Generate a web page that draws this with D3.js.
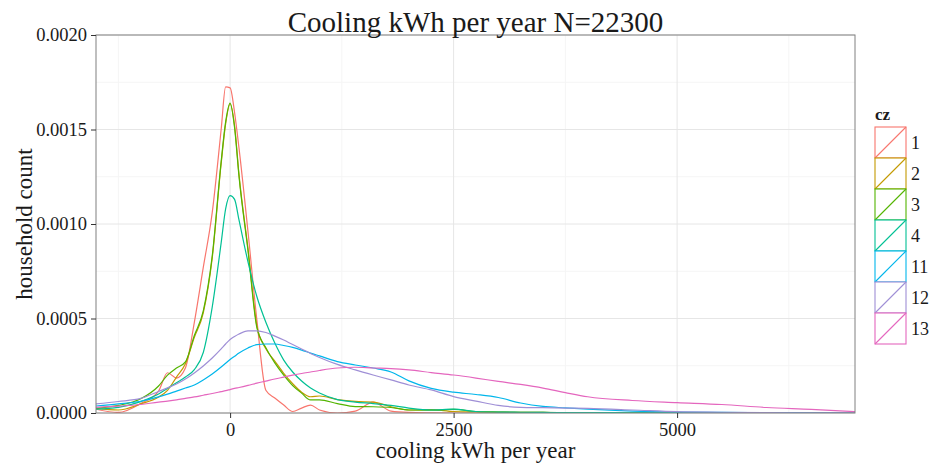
<!DOCTYPE html>
<html>
<head>
<meta charset="utf-8">
<script src="https://cdn.jsdelivr.net/npm/d3@7"></script>
<style>
  body { margin: 0; background: #fff; }
  text { font-family: "Liberation Serif", "Times New Roman", serif; fill: #1a1a1a; }
</style>
</head>
<body>
<svg id="chart" width="929" height="464"></svg>
<script>
// density values (units of 1e-4)
var xs = [-1500,-1250,-1000,-800,-700,-600,-500,-400,-300,-200,-100,-50,0,50,100,200,300,400,500,600,700,800,900,1000,1200,1400,1600,1800,2000,2250,2500,2750,3000,3250,3500,3750,4000,4500,5000,5500,6000,6500,6990];

var cz1  = [0.2,0.03,0.5,1.16,2.13,1.85,2.38,4.8,7.7,10.6,15.0,17.25,17.2,15.9,14.0,9.6,4.9,1.2,0.79,0.42,0.08,0.26,0.42,0.16,0.0,0.1,0.58,0.1,0.03,0.01,0,0,0,0,0,0,0,0,0,0,0,0,0];
var cz2  = [0.25,0.16,0.48,0.85,1.2,1.9,2.6,4.0,5.3,8.2,13.2,15.3,16.35,15.2,12.6,8.7,4.6,3.4,2.75,2.1,1.55,1.1,0.86,0.9,0.71,0.61,0.58,0.33,0.16,0.18,0.08,0.06,0.05,0.04,0.03,0.02,0.02,0.01,0.01,0,0,0,0];
var cz3  = [0.25,0.4,0.75,1.43,2.0,2.38,2.7,4.1,5.4,8.3,13.3,15.4,16.4,15.1,12.5,8.6,4.5,3.45,2.65,2.0,1.45,1.05,0.69,0.69,0.5,0.34,0.33,0.29,0.16,0.15,0.19,0.08,0.05,0.03,0.03,0.02,0.01,0,0,0,0,0,0];
var cz4  = [0.2,0.3,0.6,1.0,1.3,1.6,1.9,2.3,3.2,5.6,9.0,10.8,11.5,11.3,10.2,8.0,6.15,4.8,3.7,2.8,2.17,1.69,1.32,1.06,0.71,0.58,0.5,0.4,0.26,0.16,0.2,0.08,0.05,0.04,0.03,0.02,0.02,0.01,0.01,0,0,0,0];
var cz11 = [0.37,0.48,0.62,0.85,1.0,1.16,1.32,1.48,1.75,2.06,2.43,2.63,2.83,3.0,3.17,3.44,3.62,3.65,3.65,3.57,3.47,3.33,3.17,3.02,2.72,2.54,2.38,2.17,1.7,1.3,1.1,0.98,0.82,0.53,0.35,0.27,0.2,0.1,0.05,0.03,0.02,0.01,0.0];
var cz12 = [0.48,0.61,0.77,1.14,1.33,1.53,1.8,2.12,2.49,2.91,3.39,3.65,3.89,4.05,4.18,4.34,4.35,4.26,4.07,3.86,3.62,3.39,3.15,2.94,2.57,2.28,2.01,1.75,1.48,1.22,0.87,0.63,0.4,0.3,0.28,0.26,0.24,0.16,0.07,0.04,0.02,0.01,0.01];
var cz13 = [0.3,0.36,0.45,0.58,0.63,0.69,0.77,0.85,0.94,1.03,1.13,1.18,1.24,1.3,1.35,1.46,1.58,1.69,1.8,1.9,2.0,2.09,2.17,2.25,2.38,2.42,2.38,2.35,2.28,2.14,2.01,1.85,1.67,1.51,1.32,1.08,0.86,0.66,0.55,0.45,0.29,0.19,0.07];

var groups = ["1","2","3","4","11","12","13"];
var colors = ["#F8766D","#C49A00","#53B400","#00C094","#00B6EB","#9F8FD6","#E466BE"];
var xTicks = [0, 2500, 5000];
var yTicks = [0, 0.0005, 0.001, 0.0015, 0.002];

var series = [cz1, cz2, cz3, cz4, cz11, cz12, cz13].map(function(vals, i) {
  return { cz: groups[i], color: colors[i],
           points: vals.map(function(v, j) { return [xs[j], v * 1e-4]; }) };
});

var svg = d3.select("#chart");
var pL = 96, pR = 855, pT = 35, pB = 413;

var x = d3.scaleLinear().domain([-1500, 6990]).range([pL, pR]);
var y = d3.scaleLinear().domain([0, 0.002]).range([pB, pT]);

// minor grid
var xMinor = [-1250, 1250, 3750, 6250];
var yMinor = [0.00025, 0.00075, 0.00125, 0.00175];
svg.append("g").selectAll("line").data(xMinor).enter().append("line")
  .attr("x1", d => x(d)).attr("x2", d => x(d)).attr("y1", pT).attr("y2", pB)
  .attr("stroke", "#f5f5f5").attr("stroke-width", 1);
svg.append("g").selectAll("line").data(yMinor).enter().append("line")
  .attr("y1", d => y(d)).attr("y2", d => y(d)).attr("x1", pL).attr("x2", pR)
  .attr("stroke", "#f5f5f5").attr("stroke-width", 1);
// major grid
svg.append("g").selectAll("line").data(xTicks).enter().append("line")
  .attr("x1", d => x(d)).attr("x2", d => x(d)).attr("y1", pT).attr("y2", pB)
  .attr("stroke", "#e6e6e6").attr("stroke-width", 1);
svg.append("g").selectAll("line").data(yTicks).enter().append("line")
  .attr("y1", d => y(d)).attr("y2", d => y(d)).attr("x1", pL).attr("x2", pR)
  .attr("stroke", "#e6e6e6").attr("stroke-width", 1);

// curves
svg.append("clipPath").attr("id", "clip").append("rect")
  .attr("x", pL).attr("y", pT).attr("width", pR - pL).attr("height", pB - pT);

var line = d3.line()
  .x(d => x(d[0])).y(d => y(d[1]))
  .curve(d3.curveMonotoneX);

svg.append("g").attr("clip-path", "url(#clip)")
  .selectAll("path").data(series).enter().append("path")
  .attr("d", d => line(d.points))
  .attr("fill", "none")
  .attr("stroke", d => d.color)
  .attr("stroke-width", 1.2);

// panel border
svg.append("rect").attr("x", pL).attr("y", pT)
  .attr("width", pR - pL).attr("height", pB - pT)
  .attr("fill", "none").attr("stroke", "#808080").attr("stroke-width", 1);

// axes
var xAxis = svg.append("g").attr("transform", "translate(0," + pB + ")")
  .call(d3.axisBottom(x).tickValues(xTicks).tickFormat(d3.format("d")).tickSize(5).tickPadding(5));
var yAxis = svg.append("g").attr("transform", "translate(" + pL + ",0)")
  .call(d3.axisLeft(y).tickValues(yTicks).tickFormat(d3.format(".4f")).tickSize(5).tickPadding(4));
[xAxis, yAxis].forEach(function(a) {
  a.select(".domain").remove();
  a.selectAll(".tick line").attr("stroke", "#333");
  a.selectAll(".tick text").style("font-family", '"Liberation Serif", serif')
    .style("font-size", "18.5px").attr("fill", "#1a1a1a");
});

// titles
svg.append("text").attr("x", (pL + pR) / 2).attr("y", 32)
  .attr("text-anchor", "middle").style("font-size", "29px")
  .text("Cooling kWh per year N=22300");
svg.append("text").attr("x", (pL + pR) / 2).attr("y", 458)
  .attr("text-anchor", "middle").style("font-size", "23px")
  .text("cooling kWh per year");
svg.append("text")
  .attr("transform", "translate(32," + ((pT + pB) / 2) + ") rotate(-90)")
  .attr("text-anchor", "middle").style("font-size", "23px")
  .text("household count");

// legend
var lg = svg.append("g").attr("transform", "translate(875,127)");
lg.append("text").attr("x", 0).attr("y", -7)
  .style("font-size", "17px").style("font-weight", "bold").text("cz");
var key = lg.selectAll("g.key").data(series).enter().append("g")
  .attr("class", "key")
  .attr("transform", (d, i) => "translate(0," + (i * 31) + ")");
key.append("rect").attr("x", 0).attr("y", 0).attr("width", 31).attr("height", 31)
  .attr("fill", "#fff").attr("stroke", d => d.color).attr("stroke-width", 1.1);
key.append("line").attr("x1", 0).attr("y1", 31).attr("x2", 31).attr("y2", 0)
  .attr("stroke", d => d.color).attr("stroke-width", 1.1);
key.append("text").attr("x", 36).attr("y", 15.5).attr("dy", "0.35em")
  .style("font-size", "18px").text(d => d.cz);
</script>
</body>
</html>
